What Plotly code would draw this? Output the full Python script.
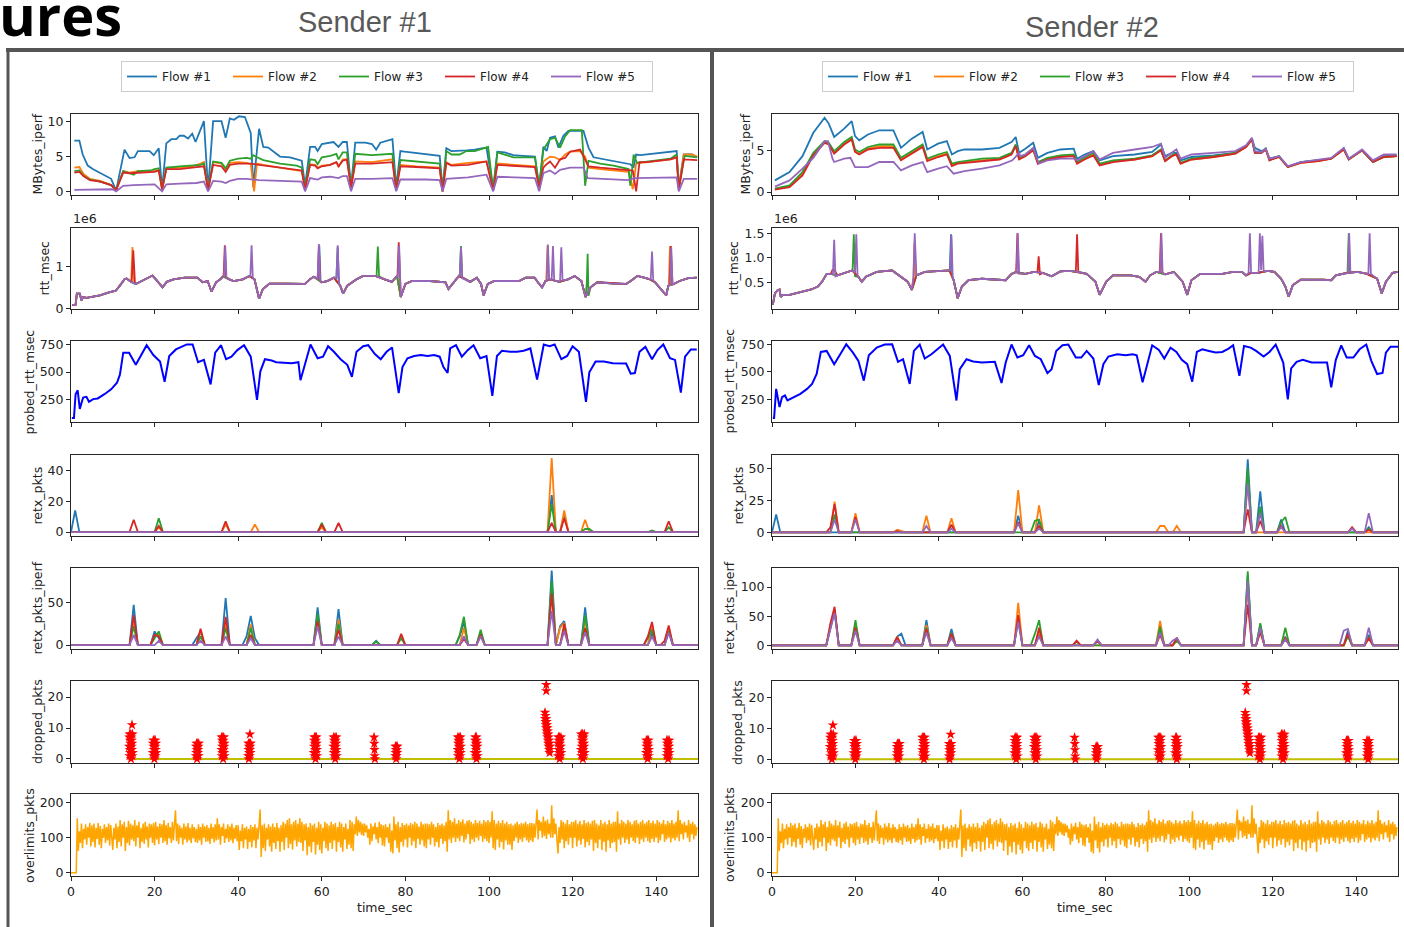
import plotly.graph_objects as go

W, H = 1404, 927
FLOWS = ["Flow #1", "Flow #2", "Flow #3", "Flow #4", "Flow #5"]
FLOW_COLORS = ["#1f77b4", "#ff7f0e", "#2ca02c", "#d62728", "#9467bd"]

# ---------------- MBytes_iperf (t, value) ----------------
mb_left_f1 = [(0.8,7.3),(2,7.3),(2.8,5.3),(4,3.7),(5.2,3.2),(6.8,2.7),(8.4,2.2),(9.6,1.8),(10.8,0.1),(12.8,6.0),(14,4.8),(15.2,4.9),(16,5.8),(18.8,5.8),(19.8,5.2),(21,6.2),(21.8,0.3),(22.8,6.9),(24,7.5),(25.2,7.5),(26,8.0),(27,8.0),(28,7.6),(29,8.3),(29.8,7.1),(30.8,8.7),(31.8,10.1),(32.8,0.2),(34,10.1),(36,10.1),(37,7.7),(38,10.5),(39,10.3),(40.2,10.8),(41.6,10.7),(43,8.4),(43.6,0.6),(45,9.0),(46,6.4),(47.2,6.3),(48.4,5.8),(50,5.0),(52.4,4.9),(54,4.6),(55.2,4.4),(56,0.8),(57.2,6.4),(58.4,6.4),(59,5.8),(60,6.8),(61.6,7.0),(62.8,7.1),(64,6.4),(65,7.1),(66,7.1),(67,0.6),(68,7.0),(70.4,7.0),(72,6.8),(73,6.0),(74,7.0),(75.4,7.2),(76.9,7.5),(77.8,0.6),(78.8,5.8),(79.8,5.7),(82.6,5.5),(85.8,5.3),(88.2,5.1),(88.9,0.3),(89.8,6.2),(91,5.8),(92.6,5.8),(94.6,5.9),(96.6,6.0),(99.4,6.3),(101,0.3),(102,5.7),(103.8,5.6),(105.8,5.2),(108.2,5.1),(111,5.0),(112,0.6),(113,6.4),(113.8,5.8),(114.6,7.7),(115.8,7.9),(116.6,6.3),(117.8,8.0),(119,8.7),(122.6,8.7),(123.8,6.3),(125,4.9),(127.4,4.6),(129.8,4.4),(132.2,4.1),(133.8,3.9),(134.6,3.5),(135.2,5.3),(136.2,5.2),(137.8,5.3),(141,5.5),(143.4,5.7),(144.9,5.8),(145.4,0.6),(146.6,5.3),(148.6,5.3),(149.8,4.9)]
mb_left_f2 = [(0.8,3.4),(2,3.5),(3,2.5),(4.5,1.8),(7,1.5),(9.6,0.9),(10.8,0.2),(12.5,2.9),(14,2.7),(16,2.9),(19,2.9),(21,3.0),(21.8,0.3),(22.8,3.3),(26,3.4),(29,3.6),(31,4.0),(31.8,4.2),(32.8,0.2),(34,4.2),(36,4.0),(37,3.2),(38,4.1),(40,4.2),(42,4.1),(43,3.9),(43.8,0.0),(44.5,4.0),(46,3.8),(50,3.4),(54,3.1),(55.2,2.9),(56,0.5),(57.2,3.9),(58.4,3.8),(59,3.4),(60,3.7),(62,3.8),(63.5,4.2),(64,3.5),(65,4.6),(66,4.6),(67,0.5),(68,4.3),(72,4.2),(75,4.5),(76.9,4.6),(77.8,0.3),(78.8,3.8),(82.6,3.6),(88.2,3.4),(88.9,0.0),(89.8,4.2),(91,3.8),(93,4.0),(95,4.1),(99.4,4.3),(101,0.3),(102,4.0),(105.8,3.8),(111,3.6),(112,0.5),(113,4.3),(114.6,5.0),(115.8,4.9),(117,4.5),(118.2,5.3),(119.4,5.7),(121.8,5.8),(123,5.0),(123.8,3.4),(126.6,3.2),(129.8,3.0),(133.4,2.8),(134.4,0.3),(135.2,4.0),(137.8,4.2),(141,4.4),(143.4,4.6),(144.9,4.9),(145.4,0.4),(146.6,5.3),(148.6,5.3),(149.8,5.0)]
mb_left_f3 = [(0.8,2.9),(2,3.0),(3,2.2),(4.5,1.7),(7,1.4),(9.6,0.9),(10.8,0.2),(12.5,2.9),(14,2.6),(15,2.4),(16,2.9),(19,3.0),(20,3.2),(21,3.3),(21.8,0.3),(22.8,3.4),(26,3.6),(29,3.7),(31,3.8),(31.8,4.0),(32.8,0.2),(34,4.3),(36,4.1),(37,3.3),(38,4.4),(40,4.7),(42,4.8),(43,4.7),(43.6,5.2),(44.5,4.9),(46,4.5),(50,4.0),(54,3.7),(55.2,3.4),(56,0.5),(57.2,4.6),(58.4,4.5),(59,3.9),(60,4.9),(62,5.1),(63.5,5.4),(64,4.6),(65,5.6),(66,5.6),(67,0.5),(68,5.4),(72,5.2),(76.9,5.4),(77.8,0.3),(78.8,4.5),(82.6,4.3),(88.2,4.0),(88.9,0.0),(89.8,5.8),(91,5.3),(93,5.3),(94.6,5.8),(96.6,5.8),(99.8,6.4),(101,0.2),(102,5.6),(103.8,5.3),(105.8,4.9),(111,4.9),(112,0.6),(113,6.0),(113.8,6.7),(114.6,7.5),(115.8,7.7),(117,6.3),(118.2,7.9),(119.4,8.8),(122.2,8.8),(123,0.8),(123.8,4.4),(126.6,4.0),(129.8,3.7),(133.4,3.2),(133.8,0.8),(134.6,5.3),(135.4,4.1),(137.8,4.3),(141,4.5),(143.4,4.7),(144.9,5.3),(145.4,0.3),(146.8,5.1),(149.8,4.9)]
mb_left_f4 = [(0.8,2.7),(2,2.8),(3,2.2),(4.5,1.6),(7,1.4),(9.6,0.9),(10.8,0.2),(12.5,2.7),(14,2.6),(16,2.7),(19,2.8),(20,2.8),(21,3.0),(21.8,0.3),(22.8,3.2),(26,3.2),(29,3.4),(31,3.5),(31.8,3.6),(32.8,0.2),(34,3.8),(36,3.6),(37,2.8),(38,3.8),(40,4.0),(42,4.0),(43,4.0),(45,3.8),(50,3.4),(54,3.1),(55.2,3.0),(56,0.3),(57.2,3.8),(58.4,3.7),(59,3.3),(60,3.6),(62,3.8),(63.5,4.2),(64,3.6),(65,4.4),(66,4.6),(67,0.6),(68,4.0),(72,4.0),(76.9,4.2),(77.8,0.2),(78.8,3.6),(82.6,3.5),(88.2,3.3),(88.9,0.0),(89.8,4.1),(91,3.7),(93,3.7),(95,3.8),(99.4,4.3),(101,0.1),(102,3.8),(105.8,3.7),(111,3.5),(112,0.6),(113,3.4),(113.8,3.9),(114.6,4.3),(115.8,3.4),(117,4.6),(118.2,4.8),(119.4,5.7),(121.8,6.0),(123,4.5),(123.8,3.6),(126.6,3.4),(129.8,3.2),(133.4,3.0),(134.4,3.0),(135.2,0.0),(136,4.2),(137.8,4.2),(141,4.4),(143.4,4.6),(144.9,4.9),(145.4,0.3),(146.6,4.6),(149.8,4.5)]
mb_left_f5 = [(0.8,0.2),(5,0.25),(10,0.3),(10.8,0.0),(12.5,0.8),(15,0.9),(20,1.0),(21.8,0.0),(22.8,1.0),(26,1.1),(30,1.2),(31.8,1.4),(32.8,0.0),(34,1.5),(36,1.4),(37,1.2),(38,1.5),(40,1.8),(42,1.8),(45,1.6),(50,1.5),(55.2,1.4),(56,0.0),(57.2,1.9),(59,1.7),(60,2.0),(62,2.1),(64,1.9),(65,2.2),(66,2.2),(67,0.0),(68,1.8),(72,1.8),(76.9,1.9),(77.8,0.0),(78.8,1.7),(85,1.7),(88.2,1.6),(88.9,0.0),(89.8,1.8),(95,2.0),(99.4,2.4),(101,0.0),(102,2.1),(111,1.9),(112,0.0),(113,2.6),(114.6,3.0),(115.8,2.5),(117,3.1),(119.4,3.4),(122.6,3.4),(123.6,1.9),(126.6,1.8),(133.4,1.6),(134.8,1.9),(137.8,1.9),(143.4,2.0),(144.9,2.0),(145.4,0.0),(146.6,1.8),(149.8,1.8)]

mb_right_f1 = [(0.7,1.4),(4.2,2.4),(7.3,4.3),(9.9,7.1),(12.6,8.9),(13.6,8.2),(14.9,6.6),(17.3,7.6),(19.1,8.5),(19.9,6.7),(20.9,6.2),(23,6.9),(25.7,7.4),(29.1,7.4),(30.9,5.3),(33.5,6.4),(36.1,7.2),(37.2,5.1),(39.8,5.8),(41.9,6.1),(43.1,4.5),(44.5,4.9),(46.1,5.1),(50.3,5.1),(54.5,5.3),(57.4,6.0),(58.4,6.6),(59.2,4.7),(60.7,5.2),(62.6,5.9),(63.7,4.1),(66,4.7),(69.1,5.1),(72.3,5.2),(73.1,4.0),(74.9,4.5),(77,4.9),(78.5,3.8),(81.7,4.3),(86.9,4.5),(91.1,4.8),(93.2,5.7),(94.2,4.3),(95.8,4.7),(96.9,4.7),(97.9,3.8),(100.5,4.2),(105.8,4.4),(111,4.7),(113.6,5.5),(115,6.4),(115.7,5.3),(117.3,4.9),(118.3,5.2),(119.2,4.0),(121.5,4.3),(123.6,3.0),(126.7,3.6),(130.9,3.8),(134,4.0),(137,5.2),(138.2,4.0),(141.4,5.0),(144,3.6),(146.6,4.3),(149.7,4.4)]
mb_right_f2 = [(0.7,0.35),(4.2,0.7),(7.3,2.2),(9.9,4.5),(12.6,6.0),(13.6,5.8),(14.9,4.7),(17.3,5.8),(19.1,6.4),(19.9,4.9),(20.9,4.6),(23,5.2),(25.7,5.5),(29.1,5.5),(30.9,3.9),(33.5,4.7),(36.1,5.5),(37.2,3.8),(39.8,4.3),(41.9,4.6),(43.1,3.2),(44.5,3.5),(50.3,3.8),(54.5,4.0),(57.4,4.6),(58.4,5.6),(59.2,4.0),(60.7,4.4),(62.6,5.1),(63.7,3.5),(66,4.0),(69.1,4.3),(72.3,4.4),(73.1,3.5),(74.9,4.0),(77,4.5),(78.5,3.3),(81.7,3.7),(86.9,3.9),(91.1,4.3),(93.2,5.0),(94.2,3.7),(95.8,4.3),(96.9,4.5),(97.9,3.4),(100.5,3.9),(105.8,4.2),(111,4.6),(113.6,5.4),(115,6.3),(115.7,4.8),(117.3,4.8),(118.3,5.1),(119.2,3.9),(121.5,4.2),(123.6,3.0),(126.7,3.5),(130.9,3.7),(134,4.0),(137,5.1),(138.2,3.9),(141.4,5.0),(144,3.6),(146.6,4.2),(149.7,4.3)]
mb_right_f3 = [(0.7,0.4),(4.2,0.8),(7.3,2.4),(9.9,4.7),(12.6,6.1),(13.6,5.9),(14.9,4.9),(17.3,6.0),(19.1,6.6),(19.9,5.1),(20.9,4.8),(23,5.4),(25.7,5.7),(29.1,5.7),(30.9,4.1),(33.5,4.9),(36.1,5.7),(37.2,4.0),(39.8,4.5),(41.9,4.8),(43.1,3.4),(44.5,3.6),(50.3,4.0),(54.5,4.1),(57.4,4.7),(58.4,5.7),(59.2,4.1),(60.7,4.5),(62.6,5.2),(63.7,3.6),(66,4.1),(69.1,4.4),(72.3,4.5),(73.1,3.6),(74.9,4.1),(77,4.7),(78.5,3.4),(81.7,3.8),(86.9,4.0),(91.1,4.4),(93.2,5.1),(94.2,3.8),(95.8,4.4),(96.9,4.6),(97.9,3.5),(100.5,4.0),(105.8,4.3),(111,4.7),(113.6,5.5),(115,6.4),(115.7,4.7),(117.3,4.7),(118.3,5.2),(119.2,3.8),(121.5,4.3),(123.6,3.0),(126.7,3.6),(130.9,3.8),(134,4.0),(137,5.2),(138.2,3.9),(141.4,5.0),(144,3.6),(146.6,4.2),(149.7,4.3)]
mb_right_f4 = [(0.7,0.3),(4.2,0.6),(7.3,2.0),(9.9,4.4),(12.6,5.9),(13.6,5.7),(14.9,4.6),(17.3,5.7),(19.1,6.3),(19.9,4.8),(20.9,4.5),(23,5.1),(25.7,5.3),(29.1,5.3),(30.9,3.8),(33.5,4.6),(36.1,5.4),(37.2,3.7),(39.8,4.2),(41.9,4.5),(43.1,3.1),(44.5,3.4),(50.3,3.7),(54.5,3.9),(57.4,4.5),(58.4,5.5),(59.2,3.9),(60.7,4.3),(62.6,5.0),(63.7,3.4),(66,3.9),(69.1,4.2),(72.3,4.3),(73.1,3.4),(74.9,3.9),(77,4.4),(78.5,3.2),(81.7,3.6),(86.9,3.9),(91.1,4.3),(93.2,5.0),(94.2,3.7),(95.8,4.3),(96.9,4.5),(97.9,3.4),(100.5,3.9),(105.8,4.2),(111,4.6),(113.6,5.4),(115,6.3),(115.7,4.7),(117.3,4.7),(118.3,5.1),(119.2,3.8),(121.5,4.2),(123.6,3.0),(126.7,3.5),(130.9,3.7),(134,4.0),(137,5.1),(138.2,3.9),(141.4,5.0),(144,3.6),(146.6,4.2),(149.7,4.3)]
mb_right_f5 = [(0.7,0.66),(4.2,1.4),(7.3,2.8),(9.9,4.1),(12.6,6.1),(13.4,6.1),(14.5,4.0),(14.9,3.6),(17.3,4.0),(18.8,4.1),(19.9,3.0),(23,3.0),(25.7,3.6),(29.1,3.6),(30.9,2.6),(33.5,3.2),(36.1,3.6),(37.2,2.4),(39.8,2.8),(41.9,3.1),(43.5,2.2),(46.1,2.5),(50.3,2.8),(54.5,3.2),(57.6,3.8),(59.2,4.7),(59.5,4.3),(60.7,4.5),(62.6,5.3),(63.9,3.4),(66,3.8),(69.1,4.0),(72.3,4.0),(73.1,3.8),(74.9,4.3),(77,4.9),(78.5,3.9),(81.7,4.7),(86.9,5.1),(91.1,5.4),(93.2,5.8),(94.2,4.1),(95.8,4.7),(96.9,5.1),(97.9,4.0),(100.5,4.5),(105.8,4.7),(111,4.9),(113.6,5.6),(115,6.5),(115.7,4.9),(117.3,4.8),(118.3,5.2),(119.2,4.0),(121.5,4.3),(123.6,3.1),(126.7,3.6),(130.9,3.9),(134,4.1),(137,5.3),(138.2,4.0),(141.4,5.1),(144,3.8),(146.6,4.5),(149.7,4.5)]

# ---------------- rtt_msec (units of 1e6), base curve + per-flow spikes ----------------
rtt_left_base = [(0.3,0.08),(1.1,0.09),(1.4,0.35),(2.1,0.35),(2.5,0.19),(2.9,0.27),(3.7,0.25),(4.8,0.27),(6.9,0.31),(9.1,0.38),(10.7,0.42),(11.7,0.54),(12.8,0.69),(13.3,0.71),(14.4,0.63),(15.5,0.58),(17.6,0.69),(19.5,0.78),(20.3,0.69),(21.3,0.58),(21.9,0.50),(22.9,0.63),(24.5,0.69),(27.2,0.73),(30.2,0.73),(31.5,0.62),(32.7,0.65),(33.6,0.40),(34.7,0.62),(35.7,0.69),(36.4,0.76),(37.9,0.69),(38.9,0.65),(41.1,0.69),(42.7,0.77),(43.9,0.69),(45,0.23),(45.9,0.46),(47.5,0.59),(51.7,0.59),(56,0.58),(57.1,0.69),(58.1,0.75),(59.9,0.62),(61.3,0.65),(62.9,0.73),(64.4,0.54),(65.1,0.35),(66.1,0.54),(68.3,0.69),(69.9,0.77),(72.8,0.77),(75,0.69),(76.8,0.63),(78,0.77),(78.9,0.27),(80,0.58),(81.6,0.65),(85.9,0.65),(89.6,0.62),(90.3,0.46),(91.7,0.65),(92.8,0.77),(94.4,0.69),(95.5,0.63),(97.1,0.73),(98.1,0.58),(98.7,0.31),(99.7,0.58),(101.3,0.65),(105.1,0.65),(107.2,0.65),(108.8,0.73),(110.9,0.73),(112,0.58),(112.7,0.50),(113.5,0.65),(114.7,0.69),(116.8,0.63),(118.9,0.69),(120.5,0.77),(122.1,0.65),(123.1,0.27),(124.3,0.50),(125.9,0.62),(129.6,0.59),(132.8,0.58),(133.9,0.65),(135.5,0.77),(137.1,0.73),(138.5,0.69),(139.7,0.62),(141.3,0.42),(142.4,0.31),(142.9,0.54),(144.2,0.58),(145.6,0.65),(147.7,0.72),(149.7,0.73)]
rtt_left_spikes = {
    "Flow #1": [(59.1,0.70),(59.4,1.50),(59.7,0.65),(63.5,0.72),(63.8,1.45),(64.1,0.60)],
    "Flow #2": [(14.3,0.62),(14.7,1.46),(15.1,0.62),(113.7,0.65),(114.0,1.50),(114.3,0.68),(143.0,0.55),(143.3,1.48),(143.7,0.56)],
    "Flow #3": [(73.1,0.77),(73.4,1.47),(73.7,0.76),(93.0,0.75),(93.3,1.48),(93.6,0.74),(123.4,0.60),(123.6,1.30),(123.8,0.30)],
    "Flow #4": [(14.5,0.62),(14.9,1.38),(15.3,0.60),(36.5,0.75),(36.8,1.50),(37.1,0.74),(59.0,0.69),(59.3,1.45),(59.6,0.66),(78.1,0.76),(78.4,1.57),(78.7,0.50),(143.2,0.55),(143.5,1.48),(143.9,0.56)],
    "Flow #5": [(36.6,0.76),(36.9,1.48),(37.2,0.72),(42.9,0.75),(43.2,1.50),(43.5,0.72),(59.0,0.69),(59.3,1.53),(59.6,0.65),(63.5,0.72),(63.8,1.50),(64.1,0.58),(78.2,0.76),(78.5,1.50),(78.8,0.40),(93.0,0.75),(93.3,1.45),(93.6,0.72),(113.8,0.66),(114.1,1.52),(114.4,0.68),(115.0,0.68),(115.3,1.48),(115.6,0.66),(117.0,0.65),(117.3,1.45),(117.6,0.66),(138.7,0.69),(139.0,1.35),(139.3,0.66),(143.3,0.55),(143.6,1.45),(143.9,0.56)],
}
rtt_right_base = [(0.2,0.04),(0.7,0.27),(1.3,0.33),(1.8,0.35),(2.1,0.20),(2.6,0.24),(4.2,0.24),(6.8,0.29),(9.4,0.35),(11,0.41),(12,0.51),(13.1,0.67),(14.1,0.67),(15.7,0.64),(17.8,0.71),(19.2,0.74),(20.7,0.61),(21.5,0.51),(22.5,0.61),(25.1,0.71),(28.8,0.74),(30.4,0.64),(32.5,0.51),(33.5,0.34),(34.6,0.64),(36.6,0.71),(40.3,0.73),(42.5,0.74),(43.5,0.55),(44.5,0.17),(45.5,0.41),(47.1,0.54),(50.3,0.57),(54.5,0.54),(56,0.54),(57.4,0.67),(58.4,0.71),(60.7,0.67),(62.8,0.71),(64.9,0.69),(67,0.62),(69.1,0.72),(71.2,0.73),(73.3,0.71),(75.4,0.67),(77.5,0.51),(78.5,0.24),(80.1,0.51),(81.7,0.64),(85.9,0.64),(88,0.61),(89.5,0.51),(90.6,0.64),(92.1,0.71),(94.2,0.66),(96.3,0.71),(98.4,0.51),(99.5,0.24),(100.5,0.54),(102.6,0.67),(107.9,0.67),(110.5,0.71),(112.6,0.71),(113.6,0.64),(114.7,0.69),(116.4,0.69),(118.8,0.73),(120.4,0.71),(122,0.57),(123,0.41),(123.8,0.20),(124.8,0.44),(126.7,0.55),(132,0.55),(134,0.54),(135.1,0.64),(137.7,0.69),(140.3,0.71),(142.6,0.67),(145,0.57),(146.1,0.27),(147.1,0.51),(148.7,0.69),(150,0.71)]
rtt_right_spikes = {
    "Flow #1": [(42.6,0.74),(42.9,1.48),(43.2,0.60)],
    "Flow #2": [(33.9,0.62),(34.1,1.30),(34.4,0.64)],
    "Flow #3": [(19.3,0.73),(19.6,1.48),(19.9,0.62),(137.9,0.69),(138.2,1.50),(138.5,0.69)],
    "Flow #4": [(14.5,0.75),(14.9,0.75),(58.5,0.70),(58.8,1.50),(59.1,0.68),(63.6,0.70),(63.9,1.03),(64.2,0.66),(72.8,0.71),(73.1,1.48),(73.4,0.70),(92.9,0.71),(93.2,1.50),(93.5,0.70)],
    "Flow #5": [(14.6,0.66),(14.9,1.37),(15.2,0.62),(19.9,0.70),(20.2,1.48),(20.5,0.62),(33.9,0.60),(34.2,1.50),(34.5,0.64),(42.7,0.74),(43.0,1.46),(43.3,0.60),(58.6,0.70),(58.9,1.50),(59.2,0.68),(93.0,0.71),(93.3,1.50),(93.6,0.68),(114.2,0.69),(114.5,1.50),(114.8,0.69),(116.6,0.69),(116.9,1.50),(117.2,0.75),(117.5,1.45),(117.8,0.72),(138.0,0.69),(138.3,1.50),(138.6,0.69),(142.9,0.67),(143.2,1.50),(143.5,0.67)],
}

# ---------------- probed_rtt_msec (t, value) ----------------
probed_left = [(0.2,85),(0.7,85),(1.1,300),(1.6,335),(2.1,168),(2.9,270),(3.7,276),(4.3,232),(5.3,256),(6.4,262),(8,300),(9.6,344),(11,403),(11.7,476),(12.5,674),(13.9,674),(15.5,565),(18.1,741),(19.7,653),(21.3,594),(22.4,412),(23.5,644),(25.1,703),(26.7,732),(27.7,748),(29.1,748),(30.4,588),(31.8,609),(33.4,388),(34.5,674),(35.9,741),(37.1,615),(38.4,638),(39.8,697),(41.4,741),(43,638),(44.5,250),(45.3,506),(46.4,615),(48,603),(49.1,588),(52.8,579),(54.4,588),(54.9,426),(56,579),(57.3,748),(59,624),(60.3,638),(61.5,732),(62.9,682),(64.5,615),(66.1,565),(67.2,456),(68.3,682),(69.9,732),(71.1,741),(72.7,662),(74.1,615),(75.5,682),(76.8,721),(78.4,309),(79.3,544),(80.5,624),(82.1,644),(83.7,653),(85.3,644),(86.9,653),(88.2,638),(89.1,544),(90.1,491),(90.7,712),(92.1,741),(93.5,638),(94.9,697),(96.3,741),(97.9,624),(99.4,644),(100.8,285),(101.9,644),(103.1,691),(105.1,682),(106.7,682),(108.3,691),(109.9,712),(111.5,432),(113.1,748),(114.5,732),(115.7,748),(117.3,615),(118.7,644),(120,732),(121.5,682),(123.2,232),(124,497),(125.5,594),(127.5,594),(129.6,579),(132.8,576),(133.9,485),(134.9,491),(136,682),(137.4,726),(139,615),(140.3,697),(141.7,748),(143.3,624),(144.5,609),(145.9,315),(146.9,638),(148.3,703),(149.7,703)]
probed_right = [(0.2,82),(0.5,82),(1,346),(1.8,181),(2.4,271),(3.1,286),(3.7,241),(5.2,271),(6.8,301),(8.4,346),(9.6,391),(10.7,481),(11.7,681),(13.1,690),(14.9,570),(17.8,750),(19.4,675),(20.7,600),(22,421),(23.2,651),(25.1,720),(27,748),(28.8,750),(30.2,591),(31.4,615),(33,391),(34,690),(35.4,748),(36.6,621),(38.2,660),(39.6,705),(41,748),(42.6,645),(44.2,241),(45,525),(46.6,615),(48.2,594),(50.3,585),(53.4,591),(55,400),(56,585),(57.4,748),(58.8,630),(60.2,651),(61.6,741),(63,645),(64.4,615),(66,489),(67,525),(68.1,690),(69.6,741),(71,748),(72.8,630),(74.1,630),(75.4,690),(77,621),(78.3,381),(79.4,570),(80.6,639),(82.7,660),(84.8,651),(86.4,660),(87.4,651),(88.8,406),(91.1,741),(92.7,699),(94,621),(95.5,720),(96.9,681),(98.2,609),(99.5,570),(100.7,411),(101.8,681),(103.1,705),(104.7,690),(106.3,675),(107.9,681),(109.4,711),(110.5,741),(112,465),(113.1,735),(114.7,720),(116,690),(117.8,639),(119.2,681),(120.7,748),(122.5,585),(123.6,250),(124.4,531),(125.7,591),(127.2,609),(129.3,585),(130.9,585),(133,585),(134,361),(135.1,609),(136.4,741),(137.7,630),(139.3,630),(140.8,705),(142.4,748),(143.6,600),(145,481),(146.3,490),(147.1,675),(148.2,729),(150,729)]

# ---------------- retx_pkts (1-s samples, nonzero samples only) ----------------
retx_left = {
    "Flow #1": {1: 14, 115: 24, 118: 11},
    "Flow #2": {21: 3, 37: 5, 44: 5, 60: 3, 115: 48, 118: 14, 123: 8},
    "Flow #3": {21: 9, 60: 6, 115: 18, 123: 2, 124: 2, 139: 1, 143: 3},
    "Flow #4": {15: 8, 21: 4, 37: 7, 60: 5, 64: 6, 115: 6, 118: 9, 143: 7},
    "Flow #5": {},
}
retx_right = {
    "Flow #1": {1: 14, 59: 13, 64: 9, 114: 57, 117: 32, 122: 10, 143: 4},
    "Flow #2": {15: 24, 20: 15, 30: 2, 31: 1, 37: 13, 43: 11, 59: 33, 64: 21, 93: 5, 94: 5, 97: 5, 114: 40, 139: 3},
    "Flow #3": {15: 14, 63: 9, 64: 10, 114: 50, 117: 20, 122: 8, 123: 12, 143: 3},
    "Flow #4": {14: 4, 15: 22, 20: 12, 30: 1, 43: 6, 59: 8, 64: 5, 114: 18, 117: 9, 122: 5, 139: 4, 143: 2},
    "Flow #5": {15: 10, 20: 10, 37: 5, 43: 3, 59: 7, 64: 3, 114: 38, 117: 15, 122: 4, 139: 3, 143: 15},
}
# ---------------- retx_pkts_iperf ----------------
retx_iperf_left = {
    "Flow #1": {15: 47, 20: 16, 21: 8, 30: 8, 31: 15, 37: 55, 42: 10, 43: 34, 44: 8, 59: 44, 64: 42, 73: 5, 93: 10, 94: 27, 98: 15, 115: 87, 117: 22, 118: 28, 123: 44, 139: 15, 143: 18},
    "Flow #2": {15: 28, 20: 10, 21: 13, 31: 17, 37: 25, 43: 24, 59: 32, 64: 30, 94: 20, 98: 12, 115: 65, 117: 20, 118: 26, 123: 30, 139: 24, 143: 20},
    "Flow #3": {15: 22, 20: 8, 21: 16, 31: 10, 37: 20, 43: 20, 59: 36, 64: 25, 73: 4, 79: 8, 93: 12, 94: 33, 98: 18, 115: 75, 118: 20, 123: 35, 138: 8, 139: 18, 143: 16},
    "Flow #4": {15: 35, 20: 12, 21: 10, 31: 19, 37: 33, 43: 12, 59: 28, 64: 18, 79: 13, 94: 7, 98: 12, 115: 60, 118: 25, 123: 20, 138: 10, 139: 27, 142: 5, 143: 23},
    "Flow #5": {15: 12, 21: 5, 31: 5, 37: 10, 43: 8, 59: 22, 64: 10, 94: 10, 98: 10, 115: 40, 118: 16, 123: 15, 139: 10, 143: 14},
}
retx_iperf_right = {
    "Flow #1": {14: 30, 15: 60, 20: 35, 30: 15, 31: 20, 37: 43, 43: 28, 59: 50, 64: 20, 78: 7, 93: 28, 97: 10, 114: 120, 117: 35, 123: 15, 138: 25, 143: 18},
    "Flow #2": {14: 35, 15: 60, 20: 35, 30: 15, 37: 35, 43: 18, 59: 73, 64: 25, 93: 42, 97: 8, 114: 100, 117: 25, 123: 12, 138: 18, 143: 13},
    "Flow #3": {14: 30, 15: 62, 20: 43, 30: 12, 37: 30, 43: 22, 59: 45, 63: 20, 64: 43, 73: 6, 93: 32, 97: 8, 114: 127, 117: 38, 123: 30, 138: 15, 143: 15},
    "Flow #4": {14: 38, 15: 66, 20: 30, 30: 14, 37: 28, 43: 20, 59: 52, 64: 30, 73: 8, 78: 8, 93: 18, 97: 13, 114: 70, 117: 22, 123: 12, 138: 20, 143: 12},
    "Flow #5": {14: 28, 15: 55, 20: 25, 30: 8, 37: 22, 43: 12, 59: 40, 64: 15, 78: 10, 93: 22, 96: 8, 97: 12, 114: 110, 117: 30, 123: 10, 137: 25, 138: 28, 143: 30},
}
retx_seconds = list(range(0, 151))

# ---------------- dropped_pkts: bursts (start time, samples every 0.05 s) ----------------
drop_bursts = [
    (13.9, [4,7,1,8,3,6,2,5,8,0,7,4,6,3,5,1,8,2]),
    (19.6, [2,5,6,1,4,3,6,0,5,2,4,6,1,3,5,2]),
    (29.9, [1,4,2,5,3,0,4,1,5,2,3,4,1,5]),
    (36.0, [3,7,1,6,4,2,7,5,0,6,3,7,2,4,5,1]),
    (42.4, [1,5,3,0,4,2,5,1,3,4,2,5]),
    (58.1, [2,6,4,7,1,5,3,7,0,6,2,4,7,5,3,1]),
    (62.8, [4,7,2,6,1,5,3,7,0,6,4,2,5,7,3,1]),
    (72.5, [7,5,3,1,0]),
    (77.6, [1,4,2,3,0,4,1,3,2,4]),
    (92.5, [3,7,1,5,6,2,4,7,0,5,3,6,1,7,2,4]),
    (96.6, [2,6,4,7,1,5,3,7,0,6,2,5,4,1]),
    (113.4, [15,13,14,12,11,13,10,12,9,11,8,10,7,9,6,8,5,7,4,6,3,5,2,4]),
    (116.5, [1,5,7,3,6,2,4,7,0,5,3,6,1,4,7,2]),
    (122.0, [3,8,1,6,4,7,2,5,8,0,6,3,7,1,5,4,8,2]),
    (137.6, [2,6,4,1,5,3,6,0,5,2,4,6,1,3]),
    (142.5, [1,6,3,5,2,4,6,0,5,3,1,4,6,2]),
]
drop_outliers = [(14.6, 11), (42.8, 8), (113.7, 22), (113.7, 24)]
drop_line_t = [13.6, 150]
drop_line_v = [0, 0]

# ---------------- overlimits_pkts (samples every 0.25 s) ----------------
overlimits = [
    0,0,0,0,0,0,155,62,118,85,140,70,125,95,138,80,130,100,142,75,
    135,88,140,72,128,96,142,80,133,70,125,100,138,85,130,92,140,78,136,90,
    65,128,95,140,70,132,88,150,75,138,100,145,62,130,85,148,78,140,95,135,
    90,150,75,135,100,145,70,128,88,140,82,145,95,132,72,140,100,138,85,142,
    78,145,95,132,82,140,100,138,85,150,90,136,80,142,98,130,85,145,92,138,
    178,90,140,82,135,100,128,80,140,95,132,86,142,92,128,84,138,98,130,88,
    125,85,138,92,130,80,140,100,132,88,136,90,128,82,140,96,130,86,138,92,
    155,95,138,80,130,105,140,85,125,98,138,88,132,92,140,84,128,96,136,90,
    135,65,120,90,138,70,128,95,132,68,125,88,136,72,130,92,138,70,128,95,
    140,180,45,135,70,140,62,128,95,138,75,132,60,140,85,130,68,142,90,128,
    60,135,88,145,65,140,100,150,70,155,82,138,66,145,92,150,75,140,88,155,
    85,145,62,138,92,140,50,130,75,142,58,135,88,140,52,128,80,145,65,138,
    55,128,90,145,70,140,62,135,85,145,68,138,92,142,60,130,88,145,72,140,
    60,130,95,140,68,125,80,150,70,145,62,138,110,160,105,150,115,145,108,140,
    105,140,115,135,100,125,80,140,90,132,110,142,95,130,84,145,100,138,78,135,
    75,138,100,130,85,140,60,120,55,160,92,138,70,145,58,130,88,142,75,136,
    95,140,72,135,100,142,78,138,90,145,70,140,96,132,80,145,92,138,75,140,
    70,140,95,138,80,145,100,138,75,130,88,142,72,136,96,140,82,135,90,145,
    60,178,95,150,85,145,100,155,88,140,98,150,90,145,105,152,86,140,95,148,
    110,150,82,145,95,140,88,150,100,142,92,148,105,140,88,150,96,145,90,150,
    85,145,100,175,70,150,65,140,95,148,72,142,88,150,66,140,92,145,80,138,
    80,140,65,135,90,140,100,145,85,138,95,142,88,140,100,145,92,138,86,142,
    92,142,88,140,100,145,180,95,150,120,145,100,160,105,148,96,152,110,140,100,
    192,100,155,110,140,95,55,130,85,150,95,145,70,140,90,150,80,138,100,145,
    70,145,100,150,75,140,92,148,80,138,96,150,72,142,88,145,78,140,95,148,
    62,150,85,140,70,135,95,150,65,140,88,145,60,138,92,150,70,140,85,145,
    88,145,60,175,95,140,80,150,100,145,85,140,95,150,82,145,100,138,90,148,
    85,150,100,140,82,145,95,150,88,140,100,145,90,150,85,142,96,148,88,140,
    100,150,85,145,92,140,110,150,88,138,95,148,100,142,86,150,98,140,92,145,
    100,178,90,150,110,140,95,145,115,135,100,150,88,140,110,145,95,138,105,130,
]
overlimits_step = 0.25

# ---------------- axis ticks / labels ----------------
ROW_NAMES = ["MBytes_iperf", "rtt_msec", "probed_rtt_msec", "retx_pkts", "retx_pkts_iperf", "dropped_pkts", "overlimits_pkts"]
left_yticks = [[0, 5, 10], [0, 1], [250, 500, 750], [0, 20, 40], [0, 50], [0, 10, 20], [0, 100, 200]]
right_yticks = [[0, 5], [0.5, 1.0, 1.5], [250, 500, 750], [0, 25, 50], [0, 50, 100], [0, 10, 20], [0, 100, 200]]
right_ytext = [["0", "5"], ["0.5", "1.0", "1.5"], ["250", "500", "750"], ["0", "25", "50"], ["0", "50", "100"], ["0", "10", "20"], ["0", "100", "200"]]
left_yrange = [[-0.53, 11.13], [-0.015, 1.91], [50, 779], [-2.55, 50], [-4.6, 90], [-1.3, 25.2], [-9.4, 224.5]]
right_yrange = [[-0.35, 9.35], [-0.05, 1.61], [46, 780], [-2.8, 60.3], [-6.3, 132.6], [-1.2, 25.2], [-9.4, 224.5]]
xticks = [0, 20, 40, 60, 80, 100, 120, 140]

# ---------------- layout geometry (pixels) ----------------
ROWS_PX = [(114, 195), (228, 309), (341, 422), (455, 536), (568, 649), (681, 763), (794, 876)]
PANEL_X = [(71, 698), (772, 1398)]
YTITLE_X = [[37, 44, 29, 37, 37, 37, 29], [745, 733, 729, 738, 729, 737, 729]]

FONT = "DejaVu Sans"
AX_COLOR = "#262626"


def px(x):
    return x / W


def py(y):
    return 1 - y / H


def pts(pairs):
    return [p[0] for p in pairs], [p[1] for p in pairs]


def merged(base, extra):
    allp = sorted(list(base) + list(extra), key=lambda p: p[0])
    return pts(allp)


fig = go.Figure()
layout = {}


def axname(idx):
    return ("x" if idx == 1 else f"x{idx}"), ("y" if idx == 1 else f"y{idx}")


def add(idx, **kw):
    xa, ya = axname(idx)
    fig.add_trace(go.Scatter(xaxis=xa, yaxis=ya, **kw))


panels = [
    dict(mb=[mb_left_f1, mb_left_f2, mb_left_f3, mb_left_f4, mb_left_f5],
         rtt_base=rtt_left_base, rtt_spk=rtt_left_spikes, probed=probed_left,
         retx=retx_left, retx_iperf=retx_iperf_left, legend="legend"),
    dict(mb=[mb_right_f1, mb_right_f2, mb_right_f3, mb_right_f4, mb_right_f5],
         rtt_base=rtt_right_base, rtt_spk=rtt_right_spikes, probed=probed_right,
         retx=retx_right, retx_iperf=retx_iperf_right, legend="legend2"),
]

for p, pd in enumerate(panels):
    base = p * 7
    for k, name in enumerate(FLOWS):
        x, y = pts(pd["mb"][k])
        add(base + 1, x=x, y=y, mode="lines", name=name, legend=pd["legend"],
            line=dict(color=FLOW_COLORS[k], width=1.8), showlegend=True)
    for k, name in enumerate(FLOWS):
        x, y = merged(pd["rtt_base"], pd["rtt_spk"][name])
        add(base + 2, x=x, y=y, mode="lines", showlegend=False,
            line=dict(color=FLOW_COLORS[k], width=1.8))
    x, y = pts(pd["probed"])
    add(base + 3, x=x, y=y, mode="lines", showlegend=False, line=dict(color="#0000ff", width=2))
    for k, name in enumerate(FLOWS):
        d = pd["retx"][name]
        add(base + 4, x=retx_seconds, y=[d.get(t, 0) for t in retx_seconds], mode="lines",
            showlegend=False, line=dict(color=FLOW_COLORS[k], width=1.8))
    for k, name in enumerate(FLOWS):
        d = pd["retx_iperf"][name]
        add(base + 5, x=retx_seconds, y=[d.get(t, 0) for t in retx_seconds], mode="lines",
            showlegend=False, line=dict(color=FLOW_COLORS[k], width=1.8))
    dt, dv = [], []
    for start, vals in drop_bursts:
        for i, v in enumerate(vals):
            dt.append(start + 0.05 * i)
            dv.append(v)
    for t, v in drop_outliers:
        dt.append(t)
        dv.append(v)
    add(base + 6, x=drop_line_t, y=drop_line_v, mode="lines", showlegend=False,
        line=dict(color="#bfbf00", width=2))
    add(base + 6, x=dt, y=dv, mode="markers", showlegend=False,
        marker=dict(symbol="star", color="#ff0000", size=8, line=dict(width=0)))
    add(base + 7, x=[i * overlimits_step for i in range(len(overlimits))], y=overlimits,
        mode="lines", showlegend=False, line=dict(color="#ffa500", width=1.5))

    yt = left_yticks if p == 0 else right_yticks
    yr = left_yrange if p == 0 else right_yrange
    x0, x1 = PANEL_X[p]
    for r in range(7):
        idx = base + r + 1
        top, bot = ROWS_PX[r]
        xk = "xaxis" if idx == 1 else f"xaxis{idx}"
        yk = "yaxis" if idx == 1 else f"yaxis{idx}"
        xa, ya = axname(idx)
        layout[xk] = dict(domain=[px(x0), px(x1)], range=[0, 150], anchor=ya, automargin=False,
                          showline=True, mirror=True, linecolor=AX_COLOR, linewidth=1,
                          ticks="outside", ticklen=4, tickcolor=AX_COLOR, tickvals=xticks,
                          showticklabels=(r == 6), showgrid=False, zeroline=False,
                          tickfont=dict(family=FONT, size=12.5, color="#222"))
        ydict = dict(domain=[py(bot), py(top)], range=yr[r], anchor=xa, automargin=False,
                     showline=True, mirror=True, linecolor=AX_COLOR, linewidth=1,
                     ticks="outside", ticklen=4, tickcolor=AX_COLOR, tickvals=yt[r],
                     showgrid=False, zeroline=False,
                     tickfont=dict(family=FONT, size=12.5, color="#222"))
        if p == 1:
            ydict["ticktext"] = right_ytext[r]
        layout[yk] = ydict

annotations = []
for p in range(2):
    for r in range(7):
        top, bot = ROWS_PX[r]
        annotations.append(dict(x=px(YTITLE_X[p][r]), y=py((top + bot) / 2), xref="paper", yref="paper",
                                text=ROW_NAMES[r], textangle=-90, showarrow=False,
                                xanchor="center", yanchor="middle",
                                font=dict(family=FONT, size=12.5, color="#222")))
    annotations.append(dict(x=px(PANEL_X[p][0]), y=py(219), xref="paper", yref="paper",
                            text="1e6", showarrow=False, xanchor="left", yanchor="middle",
                            font=dict(family=FONT, size=12.5, color="#222")))
    annotations.append(dict(x=px((PANEL_X[p][0] + PANEL_X[p][1]) / 2), y=py(907), xref="paper", yref="paper",
                            text="time_sec", showarrow=False, xanchor="center", yanchor="middle",
                            font=dict(family=FONT, size=12.5, color="#222")))

annotations.append(dict(x=px(365), y=py(22), xref="paper", yref="paper", text="Sender #1", showarrow=False,
                        xanchor="center", yanchor="middle",
                        font=dict(family="Liberation Sans", size=29, color="#595959")))
annotations.append(dict(x=px(1092), y=py(27), xref="paper", yref="paper", text="Sender #2", showarrow=False,
                        xanchor="center", yanchor="middle",
                        font=dict(family="Liberation Sans", size=29, color="#595959")))
annotations.append(dict(x=px(-3), y=py(14), xref="paper", yref="paper", text="<b>ures</b>", showarrow=False,
                        xanchor="left", yanchor="middle",
                        font=dict(family="Open Sans", size=56, color="#000")))

shapes = [
    dict(type="line", xref="paper", yref="paper", x0=px(6), x1=1, y0=py(50), y1=py(50),
         line=dict(color="#555555", width=4)),
    dict(type="line", xref="paper", yref="paper", x0=px(8), x1=px(8), y0=py(48), y1=0,
         line=dict(color="#555555", width=3)),
    dict(type="line", xref="paper", yref="paper", x0=px(712), x1=px(712), y0=py(48), y1=0,
         line=dict(color="#555555", width=4)),
]

legend_common = dict(orientation="h", xanchor="left", yanchor="top", bgcolor="white",
                     bordercolor="#cccccc", borderwidth=1, itemwidth=30,
                     entrywidth=61, entrywidthmode="pixels",
                     font=dict(family=FONT, size=12, color="#222"))

fig.update_layout(
    width=W, height=H, autosize=False,
    margin=dict(l=0, r=0, t=0, b=0, pad=0),
    paper_bgcolor="white", plot_bgcolor="white",
    annotations=annotations, shapes=shapes,
    legend=dict(x=px(121), y=py(61), **legend_common),
    legend2=dict(x=px(822), y=py(61), **legend_common),
    **layout,
)

fig.write_html("out.html",
               config={"displayModeBar": False},
               post_script="document.body.style.margin='0';document.body.style.overflow='hidden';")
